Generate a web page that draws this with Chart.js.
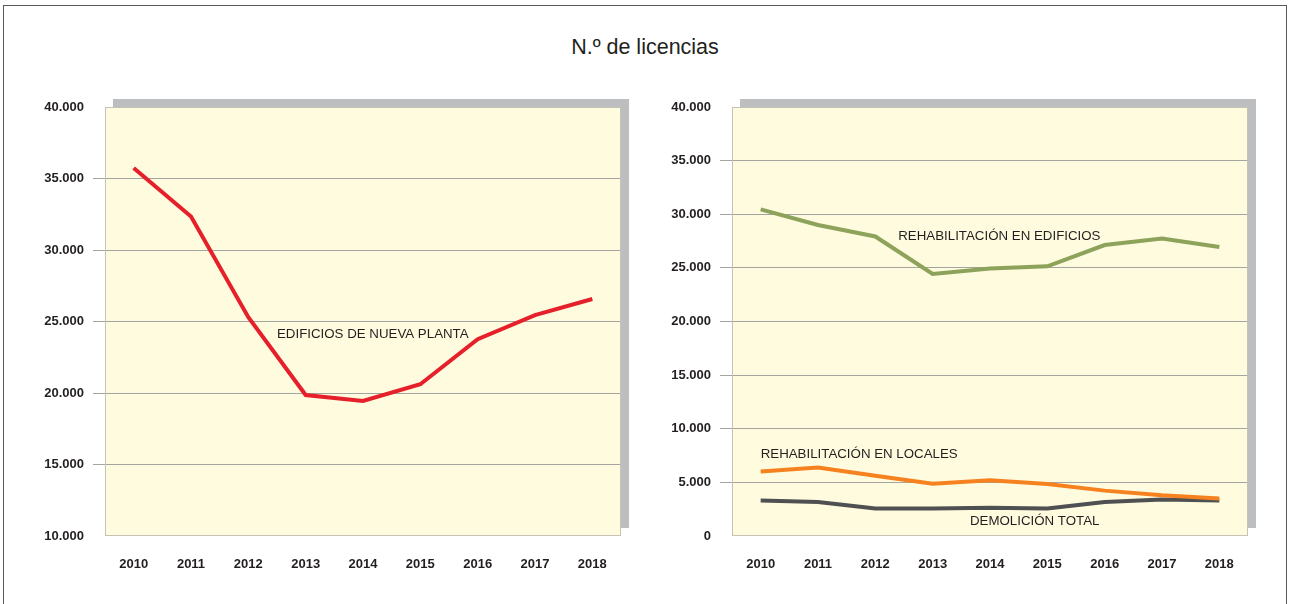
<!DOCTYPE html>
<html lang="es">
<head>
<meta charset="utf-8">
<title>N.º de licencias</title>
<script src="https://cdn.jsdelivr.net/npm/chart.js@4/dist/chart.umd.min.js"></script>
<style>
  html, body { margin: 0; padding: 0; background: #fff; }
  body { width: 1290px; height: 604px; position: relative; overflow: hidden; font-family: 'Liberation Sans', Arial, sans-serif; }
  #marco { position: absolute; left: 3px; top: 5px; width: 1282px; height: 620px; border: 1.5px solid #58595B; }
  #titulo { position: absolute; left: 0; width: 1290px; top: 35px; text-align: center; font-size: 21.5px; color: #231F20; }
  canvas { position: absolute; top: 0; }
  #graficoIzq { left: 0; }
  #graficoDer { left: 645px; }
</style>
</head>
<body>
<div id="marco"></div>
<div id="titulo">N.º de licencias</div>
<canvas id="graficoIzq" width="645" height="604"></canvas>
<canvas id="graficoDer" width="645" height="604"></canvas>
<script>

const anios = ['2010', '2011', '2012', '2013', '2014', '2015', '2016', '2017', '2018'];

const nuevaPlanta = [35730, 32340, 25300, 19860, 19440, 20610, 23760, 25450, 26570];

const rehabEdificios = [30460, 29000, 27930, 24440, 24940, 25150, 27130, 27740, 26940];
const rehabLocales = [6020, 6390, 5620, 4880, 5190, 4850, 4230, 3800, 3490];
const demolicion = [3300, 3180, 2560, 2560, 2630, 2560, 3180, 3400, 3300];

const ticksIzq = { min: 10000, max: 40000, paso: 5000 };
const ticksDer = { min: 0, max: 40000, paso: 5000 };

// Colores
const colores = {
  rojo: '#E6202B',
  verde: '#8DA25A',
  naranja: '#F5821F',
  gris: '#4F5052',
  fondo: '#FFFBDE',
  sombra: '#BCBEC0',
  rejilla: '#A4A4A0',
  borde: '#C4C3B5',
  texto: '#231F20'
};

Chart.defaults.font.family = "'Liberation Sans', Arial, sans-serif";
Chart.defaults.color = colores.texto;

// Plugin: sombra, fondo crema, borde del área y rótulos de las series
const fondoPlugin = {
  id: 'fondo',
  beforeDraw(chart) {
    const { ctx, chartArea: a } = chart;
    ctx.save();
    ctx.fillStyle = colores.sombra;
    ctx.fillRect(a.left + 8, a.top - 8, a.right - a.left, a.bottom - a.top);
    ctx.fillStyle = colores.fondo;
    ctx.fillRect(a.left, a.top, a.right - a.left, a.bottom - a.top);
    ctx.restore();
  },
  afterDatasetsDraw(chart, args, opts) {
    const { ctx, chartArea: a, scales } = chart;
    ctx.save();
    ctx.strokeStyle = colores.borde;
    ctx.lineWidth = 1;
    ctx.strokeRect(a.left + 0.5, a.top + 0.5, a.right - a.left - 1, a.bottom - a.top - 1);
    ctx.fillStyle = colores.texto;
    ctx.font = "13.3px 'Liberation Sans', Arial, sans-serif";
    ctx.textAlign = 'left';
    ctx.textBaseline = 'middle';
    (opts.textos || []).forEach(t => {
      ctx.fillText(t.texto, scales.x.getPixelForValue(t.x), scales.y.getPixelForValue(t.y));
    });
    ctx.restore();
  }
};

function formatoMiles(v) {
  return v === 0 ? '0' : (v / 1000) + '.000';
}

function crearGrafico(id, series, rango, textos, derecha) {
  const ctx = document.getElementById(id);
  return new Chart(ctx, {
    type: 'line',
    data: {
      labels: anios,
      datasets: series.map(s => ({
        data: s.valores,
        borderColor: s.color,
        borderWidth: 4,
        pointRadius: 0,
        tension: 0,
        fill: false
      }))
    },
    options: {
      responsive: false,
      animation: false,
      layout: { padding: { top: 107, right: derecha, bottom: 0, left: 0 } },
      plugins: {
        legend: { display: false },
        tooltip: { enabled: false },
        fondo: { textos: textos }
      },
      scales: {
        x: {
          offset: true,
          grid: { display: false },
          border: { display: false },
          ticks: { padding: 13, font: { size: 13, weight: 'bold' }, color: colores.texto, maxRotation: 0 },
          afterFit(s) { s.height = 68; }
        },
        y: {
          min: rango.min,
          max: rango.max,
          border: { display: false },
          ticks: {
            stepSize: rango.paso,
            padding: 9,
            font: { size: 13, weight: 'bold' },
            color: colores.texto,
            callback: formatoMiles
          },
          grid: {
            tickLength: 12,
            lineWidth: 1,
            color: c => (c.tick && (c.tick.value === rango.min || c.tick.value === rango.max)) ? 'rgba(0,0,0,0)' : colores.rejilla
          },
          afterFit(s) { s.width = derecha === 24 ? 105 : 87; }
        }
      }
    },
    plugins: [fondoPlugin]
  });
}

crearGrafico('graficoIzq',
  [{ valores: nuevaPlanta, color: colores.rojo }],
  ticksIzq,
  [{ texto: 'EDIFICIOS DE NUEVA PLANTA', x: 2.5, y: 24070 }],
  24);

crearGrafico('graficoDer',
  [
    { valores: rehabEdificios, color: colores.verde },
    { valores: rehabLocales, color: colores.naranja },
    { valores: demolicion, color: colores.gris }
  ],
  ticksDer,
  [
    { texto: 'REHABILITACIÓN EN EDIFICIOS', x: 2.4, y: 27930 },
    { texto: 'REHABILITACIÓN EN LOCALES', x: 0, y: 7660 },
    { texto: 'DEMOLICIÓN TOTAL', x: 3.65, y: 1390 }
  ],
  42);
</script>
</body>
</html>
